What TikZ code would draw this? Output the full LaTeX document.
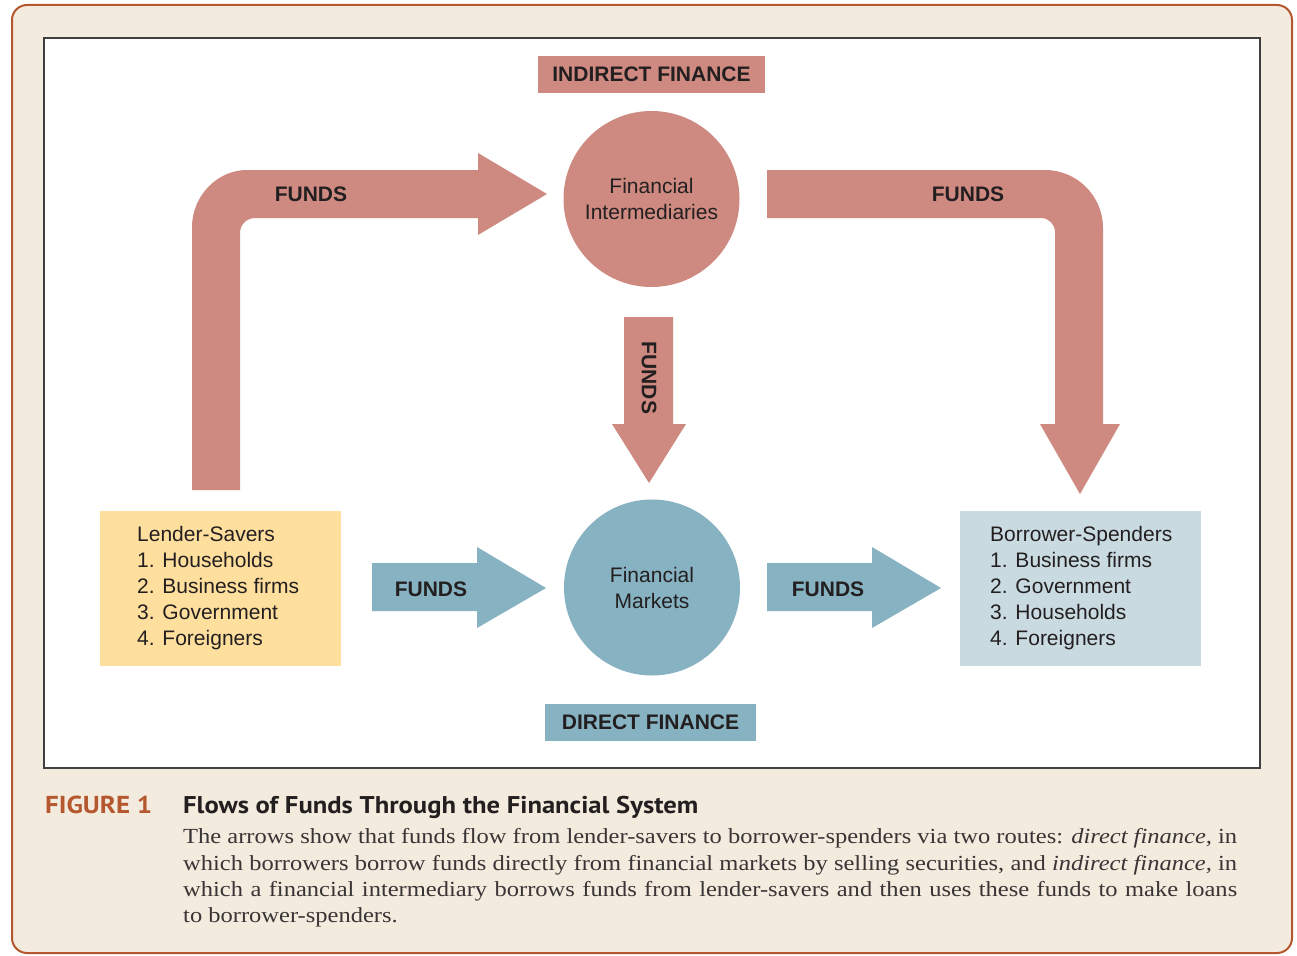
\documentclass[tikz,border=0pt]{standalone}
\usepackage{fontspec}
\setmainfont{Liberation Serif}
\newfontfamily\bodyserif[FakeStretch=1.14]{Liberation Serif}
\newfontfamily\dsans{Liberation Sans}
\newfontfamily\capsans[FakeStretch=1.1]{PT Sans}
\definecolor{rose}{RGB}{206,138,129}
\definecolor{steel}{RGB}{134,178,194}
\definecolor{sand}{RGB}{255,223,158}
\definecolor{pale}{RGB}{201,219,225}
\definecolor{beige}{RGB}{243,235,221}
\definecolor{rust}{RGB}{181,88,47}
\definecolor{ink}{RGB}{35,31,32}
\tikzset{
  lbl/.style={font=\dsans\fontsize{21}{26}\selectfont, text=ink, inner sep=0pt, align=center},
  bold/.style={font=\dsans\bfseries\fontsize{21}{26}\selectfont, text=ink, inner sep=0pt},
  listtext/.style={font=\dsans\fontsize{21}{25.8}\selectfont, text=ink, inner sep=0pt, align=left, anchor=west},
  tagbox/.style={bold, minimum height=37pt},
  roundnode/.style={circle, minimum size=176pt, inner sep=0pt},
  groupbox/.style={minimum width=241pt, minimum height=155pt, inner sep=0pt},
  rosearrow/.style={fill=rose},
  bluearrow/.style={fill=steel}
}
\begin{document}
\begin{tikzpicture}[x=1pt,y=-1pt]
\useasboundingbox (0,0) rectangle (1297,955);
\fill[white] (0,0) rectangle (1297,955);
% frame
\draw[rust, line width=2pt, fill=beige, rounded corners=15pt] (12,5) rectangle (1292,953);
\draw[black!75, line width=1.3pt, fill=white] (44,38) rectangle (1260,768);

% tag boxes
\node[tagbox, fill=rose, minimum width=227pt] (indirect) at (651.5,74.5) {INDIRECT FINANCE};
\node[tagbox, fill=steel, minimum width=211pt] (direct) at (650.5,722) {DIRECT FINANCE};

% circles
\node[roundnode, fill=rose] (fi) at (651.5,199) {};
\node[lbl] at (fi) {Financial\\Intermediaries};
\node[roundnode, fill=steel] (fm) at (652,587.5) {};
\node[lbl] at (fm) {Financial\\Markets};

% group boxes
\node[groupbox, fill=sand] (lender) at (220.5,588.5) {};
\node[listtext] at (137,588) {Lender-Savers\\1. Households\\2. Business firms\\3. Government\\4. Foreigners};
\node[groupbox, fill=pale] (borrower) at (1080.5,588.5) {};
\node[listtext] at (990,588) {Borrower-Spenders\\1. Business firms\\2. Government\\3. Households\\4. Foreigners};

% left bent arrow (lender -> intermediaries)
\fill[rosearrow] (192,490) -- (192,227)
  .. controls (192,196.6) and (216.6,170) .. (247,170)
  -- (478,170) -- (478,153) -- (547,194) -- (478,235) -- (478,218)
  -- (255,218) .. controls (246.7,218) and (240,224.7) .. (240,233)
  -- (240,490) -- cycle;
\node[bold] at (311,194) {FUNDS};

% right bent arrow (intermediaries -> borrower)
\fill[rosearrow] (767,170) -- (1045,170)
  .. controls (1077,170) and (1103,196) .. (1103,228)
  -- (1103,424) -- (1120,424) -- (1080,494) -- (1040,424) -- (1055,424)
  -- (1055,232) .. controls (1055,224.3) and (1048.7,218) .. (1041,218)
  -- (767,218) -- cycle;
\node[bold] at (968,194) {FUNDS};

% center down arrow
\fill[rosearrow] (624,317) -- (673,317) -- (673,424) -- (686,424) -- (649,483) -- (612,424) -- (624,424) -- cycle;
\node[bold, rotate=-90] at (649,378) {FUNDS};

% blue arrows
\fill[bluearrow] (372,563) -- (477,563) -- (477,547) -- (546,588) -- (477,628) -- (477,611) -- (372,611) -- cycle;
\node[bold] at (431,589) {FUNDS};
\fill[bluearrow] (767,563) -- (872,563) -- (872,547) -- (941,588) -- (872,628) -- (872,611) -- (767,611) -- cycle;
\node[bold] at (828,589) {FUNDS};

% caption
\node[anchor=base west, inner sep=0pt, text=rust, font=\capsans\bfseries\fontsize{24.5}{28}\selectfont] (fig) at (45,813) {FIGURE 1};
\node[anchor=base west, inner sep=0pt, text=ink, font=\capsans\bfseries\fontsize{24.2}{28}\selectfont] (title) at (183,813) {Flows of Funds Through the Financial System};
\node[anchor=north west, inner sep=0pt, text=ink!90, text width=1054pt, align=justify,
      font=\bodyserif\fontsize{21.5}{26.3}\selectfont] (body) at (183,828.5)
  {The arrows show that funds flow from lender-savers to borrower-spenders via two routes: \textit{direct finance,} in\linebreak
   which borrowers borrow funds directly from financial markets by selling securities, and \textit{indirect finance,} in\linebreak
   which a financial intermediary borrows funds from lender-savers and then uses these funds to make loans\linebreak
   to borrower-spenders.};
\end{tikzpicture}
\end{document}
